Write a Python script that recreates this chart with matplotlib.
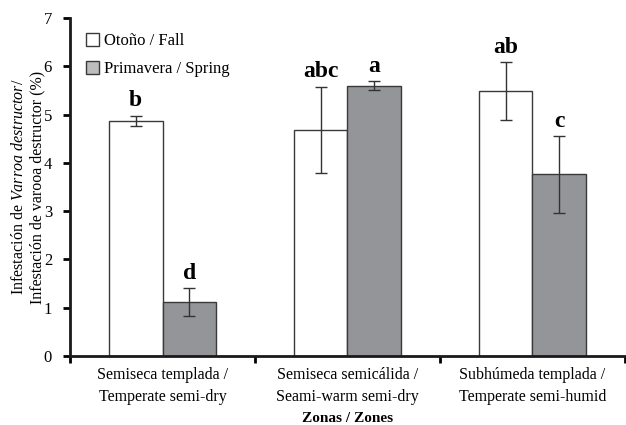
import matplotlib
matplotlib.use("Agg")
import matplotlib.pyplot as plt
import numpy as np
from matplotlib.patches import Patch

plt.rcParams['font.family'] = ['Liberation Serif', 'DejaVu Serif']
plt.rcParams['mathtext.fontset'] = 'custom'
plt.rcParams['mathtext.rm'] = 'Liberation Serif'
plt.rcParams['mathtext.it'] = 'Liberation Serif:italic'
plt.rcParams['mathtext.bf'] = 'Liberation Serif:bold'

categories = ["Semiseca templada /\nTemperate semi-dry",
              "Semiseca semicálida /\nSeami-warm semi-dry",
              "Subhúmeda templada /\nTemperate semi-humid"]
fall = [4.87, 4.68, 5.49]
fall_err = [0.11, 0.90, 0.60]
spring = [1.12, 5.60, 3.76]
spring_err = [0.29, 0.10, 0.80]
fall_letters = ["b", "abc", "ab"]
spring_letters = ["d", "a", "c"]
yticks = [0, 1, 2, 3, 4, 5, 6, 7]

fig = plt.figure(figsize=(6.26, 4.25), dpi=100)
ax = fig.add_axes([0.112, 0.1624, 0.886, 0.7952])

x = np.arange(len(categories))
w = 0.29
edge = '#3a3a3a'
ax.bar(x - w/2, fall, w, color='white', edgecolor=edge, linewidth=1.0, zorder=2)
ax.bar(x + w/2, spring, w, color='#939598', edgecolor=edge, linewidth=1.0, zorder=2)
ax.errorbar(x - w/2, fall, yerr=fall_err, fmt='none', ecolor='#333333', elinewidth=1.0, capsize=4, capthick=1.0, zorder=3)
ax.errorbar(x + w/2, spring, yerr=spring_err, fmt='none', ecolor='#333333', elinewidth=1.0, capsize=4, capthick=1.0, zorder=3)

for i in range(len(categories)):
    ax.annotate(fall_letters[i], (x[i] - w/2, fall[i] + fall_err[i]), xytext=(0, 3),
                textcoords='offset points', ha='center', va='bottom', fontsize=17, fontweight='bold')
    ax.annotate(spring_letters[i], (x[i] + w/2, spring[i] + spring_err[i]), xytext=(0, 3),
                textcoords='offset points', ha='center', va='bottom', fontsize=17, fontweight='bold')

ax.set_xlim(-0.5, 2.5)
ax.set_ylim(0, 7)
ax.set_yticks(yticks)
ax.set_yticklabels([str(t) for t in yticks], fontsize=12)
ax.set_xticks(x)
ax.set_xticklabels(categories, fontsize=11.5, linespacing=1.5)
ax.tick_params(axis='x', which='major', length=0, pad=8)
ax.set_xticks([-0.5, 0.5, 1.5, 2.5], minor=True)
ax.tick_params(axis='x', which='minor', length=5, width=2, direction='out')
ax.tick_params(axis='y', length=5, width=2, direction='out', pad=8)

for s in ['top', 'right']:
    ax.spines[s].set_visible(False)
for s in ['left', 'bottom']:
    ax.spines[s].set_linewidth(2)
    ax.spines[s].set_color('#1a1a1a')

ax.set_xlabel("Zonas / Zones", fontsize=11, fontweight='bold', labelpad=5)
ax.set_ylabel("Infestación de $\\it{Varroa\\ destructor}$/\nInfestación de varooa destructor (%)",
              fontsize=11.5, linespacing=1.2, labelpad=-1)

handles = [Patch(facecolor='white', edgecolor=edge, linewidth=1.0, label='Otoño / Fall'),
           Patch(facecolor='#bdbdbd', edgecolor=edge, linewidth=1.0, label='Primavera / Spring')]
ax.legend(handles=handles, loc='upper left', bbox_to_anchor=(0.01, 0.985), frameon=False,
          fontsize=12, handlelength=0.8, handleheight=0.8, handletextpad=0.3, labelspacing=0.7,
          borderaxespad=0.2)

fig.savefig("out.png", dpi=100)
